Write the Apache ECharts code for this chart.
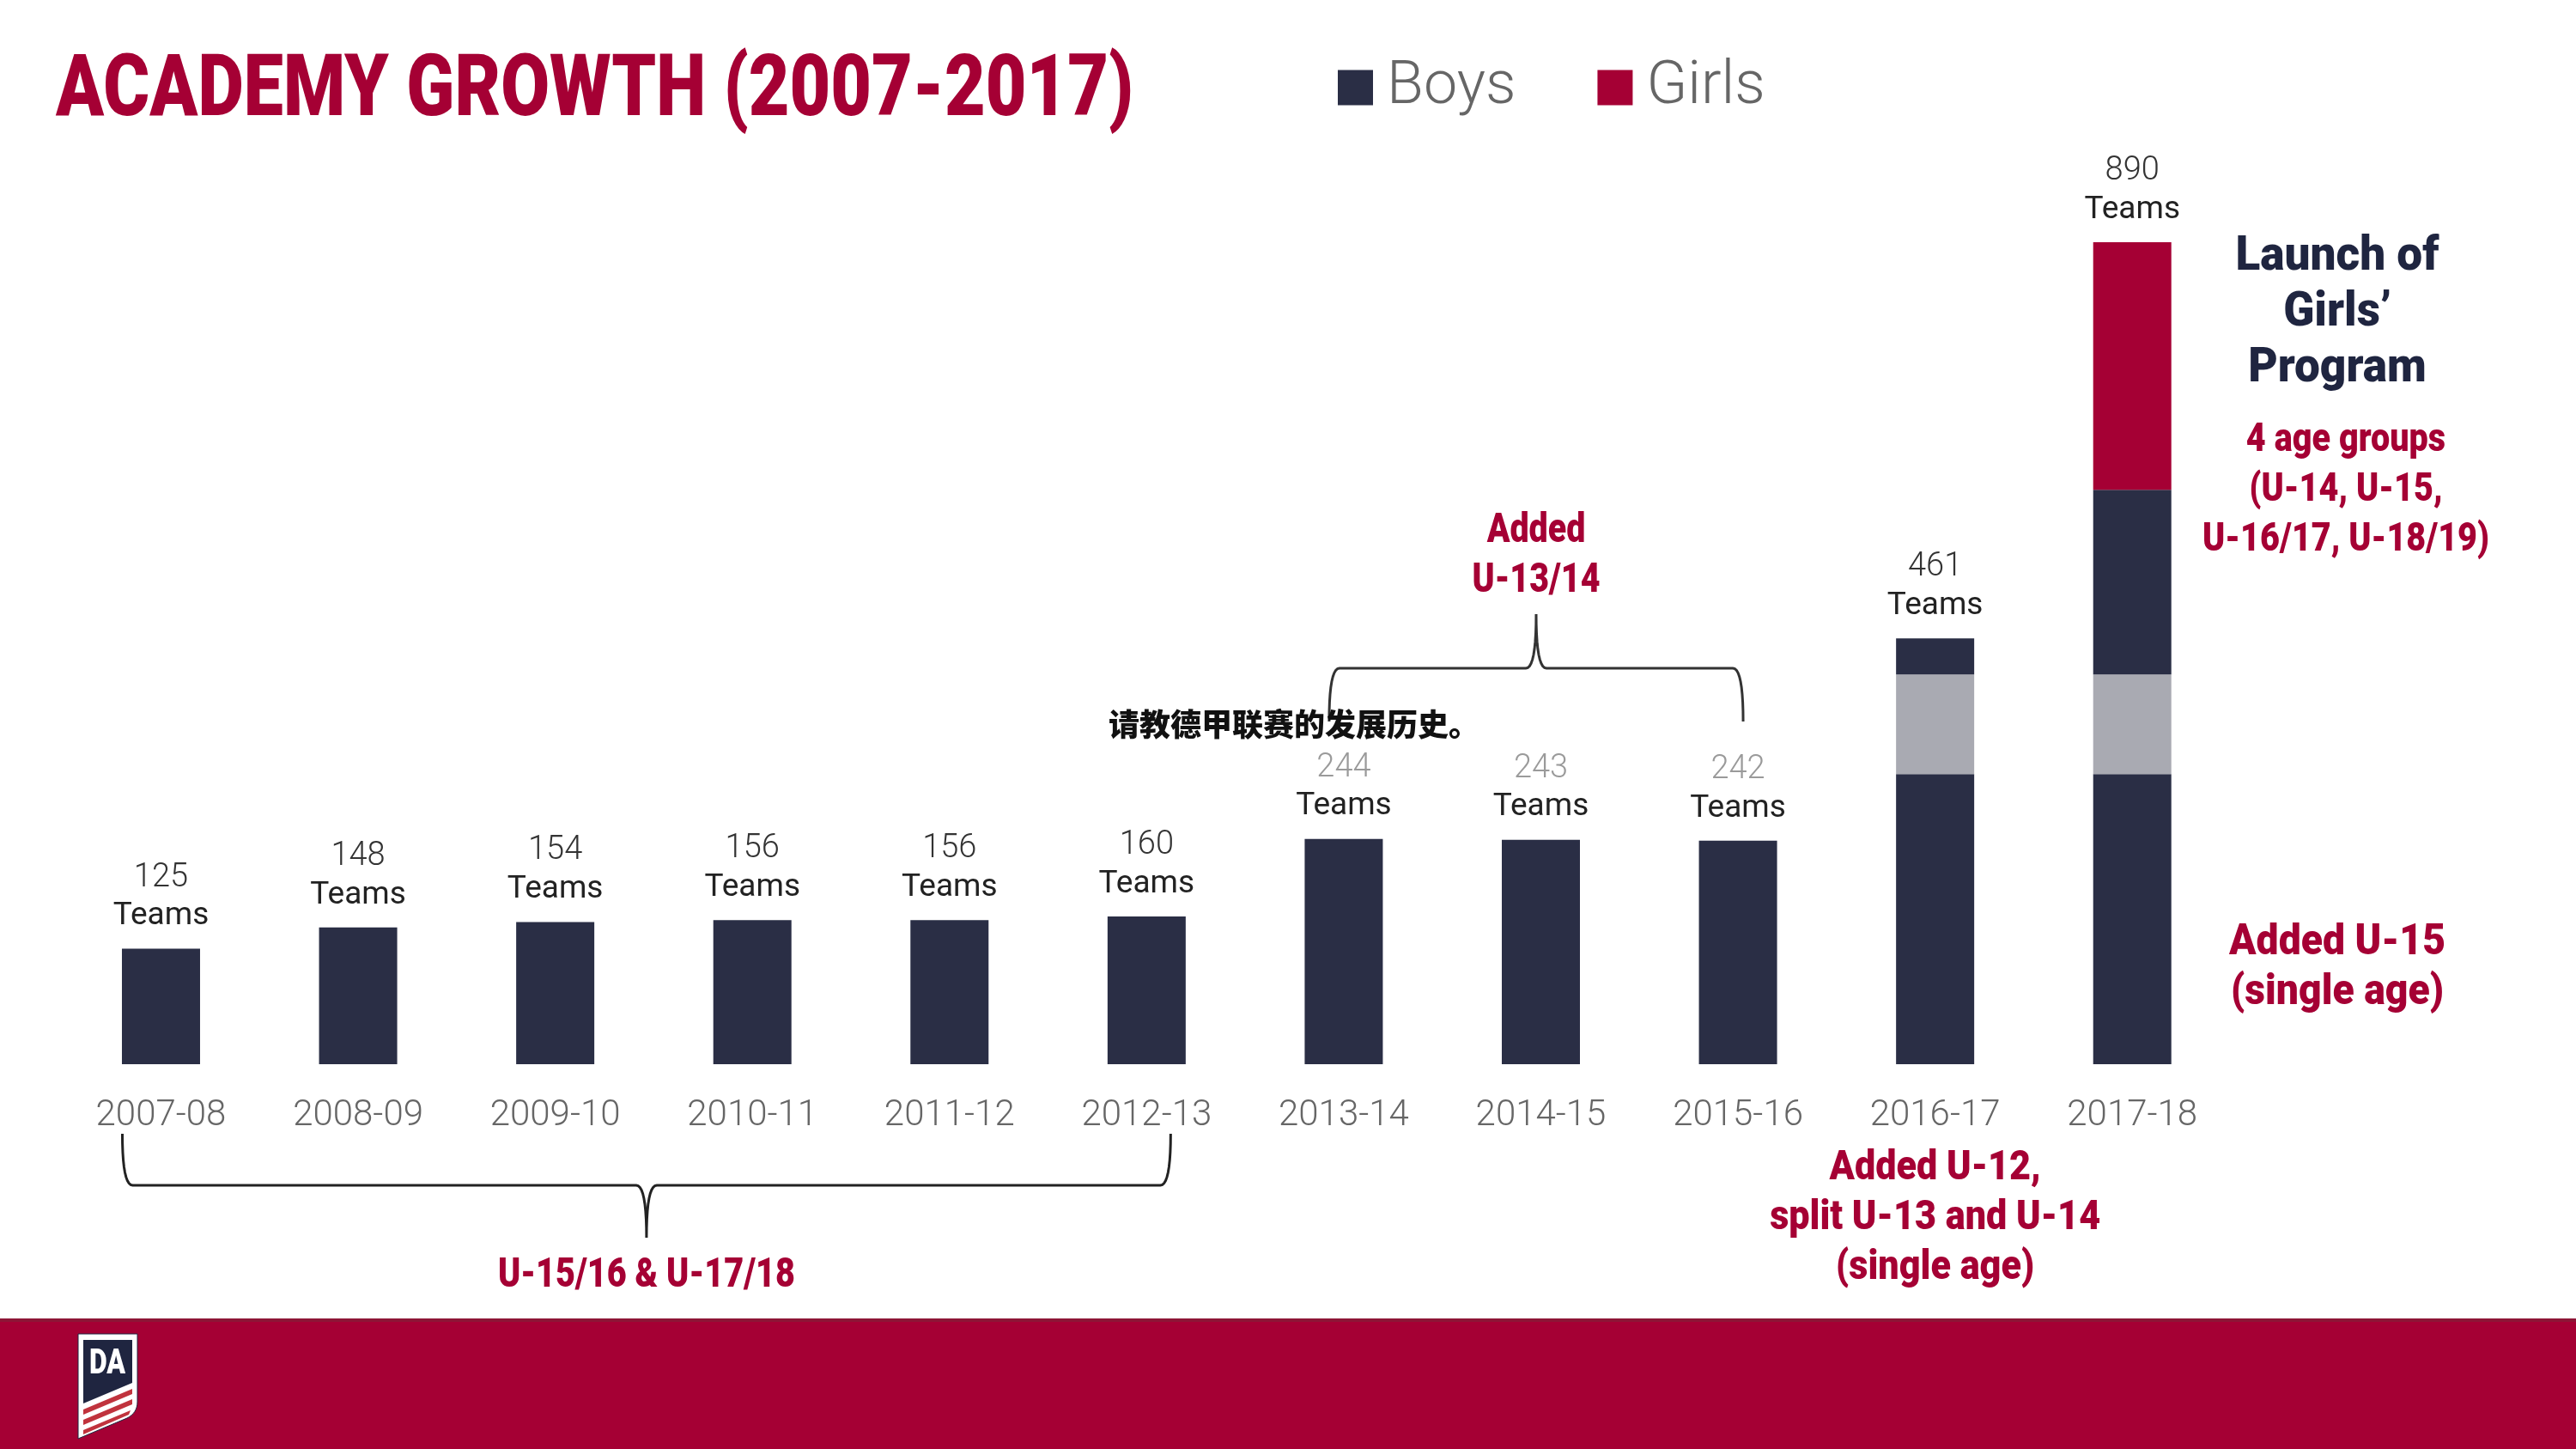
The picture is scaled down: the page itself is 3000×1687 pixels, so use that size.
<!DOCTYPE html>
<html>
<head>
<meta charset="utf-8">
<script src="https://cdn.jsdelivr.net/npm/echarts@6/dist/echarts.min.js"></script>
<style>
html,body{margin:0;padding:0;background:#fff;}
#chart{width:3000px;height:1687px;}
</style>
</head>
<body>
<div id="chart"></div>
<script>
// ---- data ----
const categories = ['2007-08','2008-09','2009-10','2010-11','2011-12','2012-13','2013-14','2014-15','2015-16','2016-17','2017-18'];
const boysBase   = [125,148,154,156,156,160,244,243,242,314,314];
const boysAdded  = [null,null,null,null,null,null,null,null,null,108,108];
const boysTop    = [null,null,null,null,null,null,null,null,null,39,200];
const girls      = [null,null,null,null,null,null,null,null,null,null,268];
const totals     = [125,148,154,156,156,160,244,243,242,461,890];

const NAVY = '#2a2e45', GRAY = '#a9aab2', RED = '#a50034', DARKNAVY = '#1f2540';
const FONT = 'Roboto';

const chart = echarts.init(document.getElementById('chart'));
const barW = 91;
const option = {
  animation: false,
  backgroundColor: '#ffffff',
  grid: {left: 72.7, right: 402, top: 239, bottom: 448},
  legend: {
    data: ['Boys','Girls'], left: 1553, top: 57,
    itemWidth: 41, itemHeight: 41, itemGap: 95, icon: 'rect',
    textStyle: {fontSize: 70, lineHeight: 80, color: '#666', fontFamily: FONT, fontWeight: 300, padding: [0,0,0,11]}
  },
  xAxis: {
    type: 'category', data: categories,
    axisLine: {show: false}, axisTick: {show: false},
    axisLabel: {interval: 0, margin: 39, fontSize: 42, lineHeight: 42, color: '#666', fontFamily: FONT, fontWeight: 300}
  },
  yAxis: {type: 'value', min: 0, max: 930, show: false, splitLine: {show: false}},
  series: [
    {name: 'Boys', type: 'bar', stack: 't', data: boysBase, barWidth: barW, barGap: '-100%', itemStyle: {color: NAVY}},
    {name: 'Boys (new age groups)', type: 'bar', stack: 't', data: boysAdded, barWidth: barW, barGap: '-100%', itemStyle: {color: GRAY}},
    {name: 'Boys', type: 'bar', stack: 't', data: boysTop, barWidth: barW, barGap: '-100%', itemStyle: {color: NAVY}},
    {name: 'Girls', type: 'bar', stack: 't', data: girls, barWidth: barW, barGap: '-100%', itemStyle: {color: RED}},
    {name: 'Total', type: 'bar', data: totals, barWidth: barW, barGap: '-100%', silent: true, z: 5,
      itemStyle: {color: 'rgba(0,0,0,0)'},
      label: {
        show: true, position: 'top', distance: 15,
        formatter: p => (p.dataIndex >= 6 && p.dataIndex <= 8 ? '{g|' : '{n|') + p.value + '}\n{t|Teams}',
        rich: {
          n: {fontSize: 38, lineHeight: 45, color: '#333', fontFamily: FONT, fontWeight: 300},
          g: {fontSize: 38, lineHeight: 45, color: '#9a9a9a', fontFamily: FONT, fontWeight: 300},
          t: {fontSize: 37, lineHeight: 45, color: '#222', fontFamily: FONT, fontWeight: 400}
        }
      }}
  ]
};
chart.setOption(option);

// ---- annotations ----
const px = i => chart.convertToPixel({xAxisIndex: 0}, categories[i]);
const mctx = document.createElement('canvas').getContext('2d');
function fitScale(text, size, weight, family, target) {
  mctx.font = weight + ' ' + size + 'px ' + family;
  const w = Math.max.apply(null, text.split('\n').map(l => mctx.measureText(l).width));
  return target / w;
}
function txt(text, x, y, size, color, target, opts) {
  const o = Object.assign({fontWeight: 900, fontFamily: FONT, align: 'center', lineHeight: size * 1.2}, opts || {});
  const s = target ? fitScale(text, size, o.fontWeight, o.fontFamily, target) : 1;
  return {type: 'text', x: x, y: y, z: 50, scaleX: s,
    style: Object.assign({text: text, fontSize: size, fill: color, verticalAlign: 'middle'}, o)};
}
function quad(p0, c, p1, n) {
  const pts = [];
  for (let k = 1; k <= n; k++) {
    const t = k / n, u = 1 - t;
    pts.push([u*u*p0[0] + 2*u*t*c[0] + t*t*p1[0], u*u*p0[1] + 2*u*t*c[1] + t*t*p1[1]]);
  }
  return pts;
}
function brace(x0, x1, yH, yLeg, yPeak) {
  const xc = (x0 + x1) / 2, r = 12;
  let pts = [[x0, yLeg]];
  pts = pts.concat(quad([x0, yLeg], [x0, yH], [x0 + r, yH], 10));
  pts.push([xc - r, yH]);
  pts = pts.concat(quad([xc - r, yH], [xc, yH], [xc, yPeak], 10));
  pts = pts.concat(quad([xc, yPeak], [xc, yH], [xc + r, yH], 10));
  pts.push([x1 - r, yH]);
  pts = pts.concat(quad([x1 - r, yH], [x1, yH], [x1, yLeg], 10));
  return pts;
}
const t0 = px(6) - 17, t1 = px(8) + 6;
const b0 = px(0) - 45, b1 = px(5) + 28;
const shield = [[91,1553],[160,1553],[160,1632]].concat(quad([160,1632],[160,1645],[148,1651],8)).concat([[91,1675]]);
const graphics = [
  // title
  txt('ACADEMY GROWTH (2007-2017)', 65, 109, 100, RED, 1255, {align: 'left'}),
  // braces
  {type: 'polyline', z: 20, shape: {points: brace(t0, t1, 778, 840, 715)}, style: {stroke: '#333', lineWidth: 3, fill: null}},
  {type: 'polyline', z: 20, shape: {points: brace(b0, b1, 1380, 1320, 1441)}, style: {stroke: '#222', lineWidth: 3, fill: null}},
  // annotations
  txt('Added\nU-13/14', (t0 + t1) / 2, 648, 48, RED, 149, {lineHeight: 58}),
  txt('U-15/16 & U-17/18', (b0 + b1) / 2, 1486, 48, RED, 346),
  txt('Added U-12,\nsplit U-13 and U-14\n(single age)', px(9), 1419, 48, RED, 385, {lineHeight: 58}),
  txt('Launch of\nGirls\u2019\nProgram', 2722, 365, 56, DARKNAVY, 237, {lineHeight: 65}),
  txt('4 age groups\n(U-14, U-15,\nU-16/17, U-18/19)', 2732, 571, 47, RED, 334, {lineHeight: 58}),
  txt('Added U-15\n(single age)', 2722, 1127, 50, RED, 252, {lineHeight: 58}),
  // footer band
  {type: 'rect', z: 1, shape: {x: 0, y: 1536, width: 3000, height: 151}, style: {fill: RED}},
  {type: 'rect', z: 2, shape: {x: 0, y: 1535, width: 3000, height: 4}, style: {fill: '#8d1536'}},
  // logo shield
  {type: 'polygon', z: 3, shape: {points: shield}, style: {fill: '#fff', stroke: DARKNAVY, lineWidth: 1}},
  {type: 'polygon', z: 4, shape: {points: [[97,1560],[154,1560],[154,1610],[97,1634]]}, style: {fill: DARKNAVY}},
  {type: 'text', z: 5, x: 125, y: 1589, scaleX: 0.8, style: {text: 'DA', fontSize: 40, fontWeight: 900, fontFamily: FONT, fill: '#fff', align: 'center', verticalAlign: 'middle'}},
  {type: 'polygon', z: 4, shape: {points: [[97,1641],[154,1617],[154,1623],[97,1647]]}, style: {fill: '#c0333d'}},
  {type: 'polygon', z: 4, shape: {points: [[97,1653],[154,1629],[154,1635],[97,1659]]}, style: {fill: '#c0333d'}},
  {type: 'polygon', z: 4, shape: {points: [[97,1665],[152,1642],[150,1647],[97,1670]]}, style: {fill: '#c0333d'}},
  // overlay question text
  {type: 'text', z: 100, x: 1291, y: 843, style: {text: '请教德甲联赛的发展历史。', fontSize: 36, fontWeight: 900, fontFamily: "'Noto Sans CJK SC'", fill: '#111', align: 'left', verticalAlign: 'middle'}}
];
chart.setOption({graphic: graphics});
</script>
</body>
</html>
